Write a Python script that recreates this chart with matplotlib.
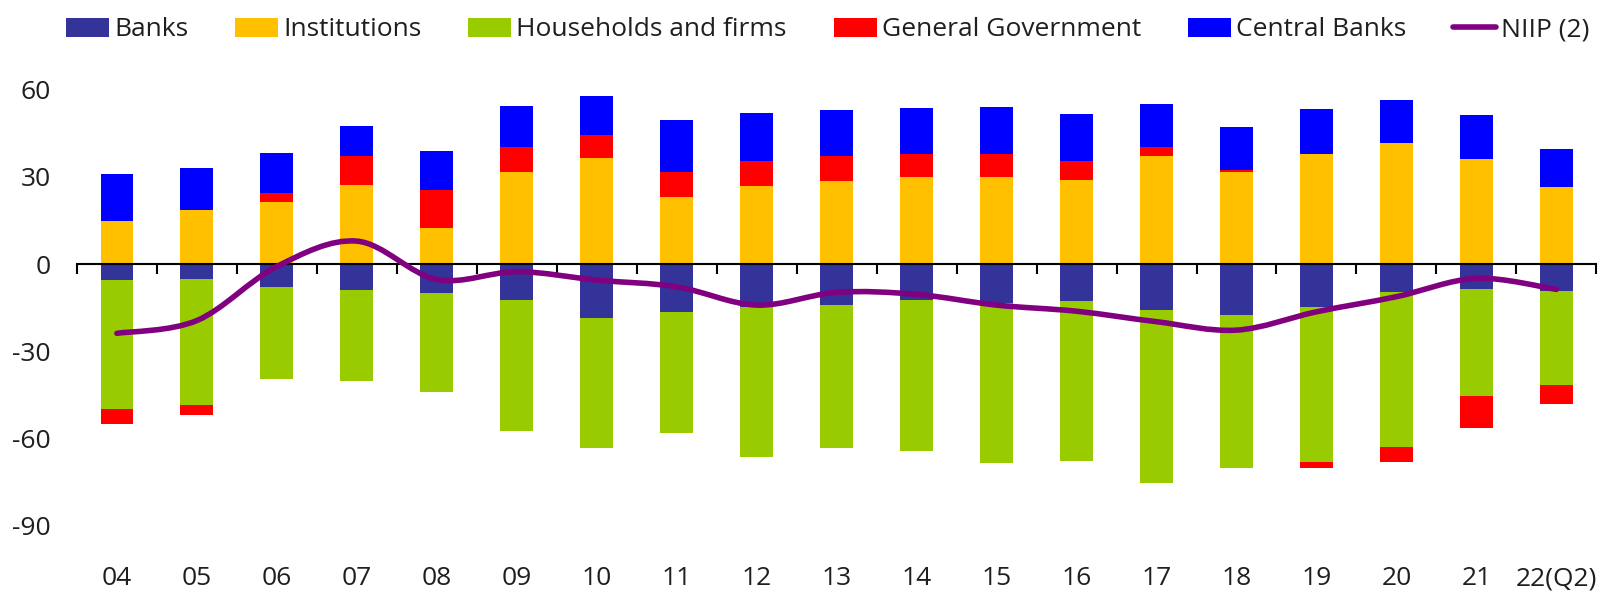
import numpy as np
import matplotlib
matplotlib.use('Agg')
import matplotlib.pyplot as plt
from matplotlib.path import Path
from matplotlib.patches import PathPatch
from matplotlib.lines import Line2D

plt.rcParams['font.family'] = ['Open Sans', 'DejaVu Sans']
plt.rcParams['axes.unicode_minus'] = False

years = ['04', '05', '06', '07', '08', '09', '10', '11', '12', '13',
         '14', '15', '16', '17', '18', '19', '20', '21', '22(Q2)']
banks = [-5.3, -5.2, -7.9, -8.9, -9.9, -12.3, -18.6, -16.3, -14.9, -14.2,
         -12.4, -13.3, -12.6, -15.8, -17.5, -14.7, -9.5, -8.7, -9.3]
institutions = [14.9, 18.6, 21.4, 27.1, 12.3, 31.8, 36.6, 23.1, 26.9, 28.6,
                29.9, 30.1, 28.9, 37.2, 31.5, 38.0, 41.6, 36.1, 26.5]
households = [-44.6, -43.3, -31.5, -31.2, -34.2, -45.2, -44.6, -41.7, -51.3, -49.0,
              -52.0, -55.0, -55.0, -59.6, -52.5, -53.5, -53.4, -36.8, -32.3]
general_gov = [-5.1, -3.3, 2.9, 10.2, 13.0, 8.4, 7.7, 8.4, 8.5, 8.7,
               8.1, 7.7, 6.4, 3.1, 0.9, -1.8, -5.3, -11.0, -6.5]
central_banks = [16.0, 14.4, 13.8, 10.3, 13.5, 14.3, 13.4, 18.2, 16.4, 15.6,
                 15.6, 16.3, 16.2, 14.7, 14.7, 15.2, 14.8, 15.3, 12.9]
niip = [-23.8, -19.4, -0.8, 7.9, -5.3, -2.6, -5.5, -7.8, -14.1, -9.7,
        -10.4, -14.1, -16.2, -19.8, -22.7, -16.4, -11.2, -4.9, -8.7]

series = [('Banks', banks, '#333399'),
          ('Institutions', institutions, '#FFC000'),
          ('Households and firms', households, '#99CC00'),
          ('General Government', general_gov, '#FF0000'),
          ('Central Banks', central_banks, '#0000FF')]


def smooth_path(x, y, t=1/6):
    # excel-like smoothed line as cubic bezier segments
    verts = [(x[0], y[0])]
    codes = [Path.MOVETO]
    n = len(x)
    for i in range(n - 1):
        xp, yp = (x[i - 1], y[i - 1]) if i > 0 else (x[i], y[i])
        xn, yn = (x[i + 2], y[i + 2]) if i + 2 < n else (x[i + 1], y[i + 1])
        c1 = (x[i] + (x[i + 1] - xp) * t, y[i] + (y[i + 1] - yp) * t)
        c2 = (x[i + 1] - (xn - x[i]) * t, y[i + 1] - (yn - y[i]) * t)
        verts += [c1, c2, (x[i + 1], y[i + 1])]
        codes += [Path.CURVE4] * 3
    return Path(verts, codes)


fig = plt.figure(figsize=(16.23, 5.92), dpi=100)
ax = fig.add_axes([0.0474, 0.0625, 0.9362, 0.8108])

x = np.arange(len(years))
pos = np.zeros(len(years))
neg = np.zeros(len(years))
handles = []
for name, vals, col in series:
    v = np.array(vals)
    bottom = np.where(v >= 0, pos, neg)
    bc = ax.bar(x, v, 0.41, bottom=bottom, color=col, label=name, zorder=1)
    handles.append(bc)
    pos = pos + np.where(v >= 0, v, 0)
    neg = neg + np.where(v < 0, v, 0)

ax.add_patch(PathPatch(smooth_path(x, niip), facecolor='none', edgecolor='#800080',
                       lw=4, capstyle='round', zorder=3))
handles.append(Line2D([], [], color='#800080', lw=4, solid_capstyle='round'))

ax.set_xlim(-0.5, len(years) - 0.5)
ax.set_ylim(-100, 65)
for s in ['top', 'right', 'left']:
    ax.spines[s].set_visible(False)
ax.spines['bottom'].set_position(('data', 0))
ax.spines['bottom'].set_linewidth(1.5)
ax.spines['bottom'].set_color('black')
ax.set_xticks(np.arange(-0.5, len(years), 1))
ax.set_xticklabels([])
ax.tick_params(axis='x', length=7, width=1.5, direction='out', color='black')
ax.set_yticks([-90, -60, -30, 0, 30, 60])
ax.tick_params(axis='y', length=0, pad=19, labelsize=19, labelcolor='#1f1f1f')

sec = ax.secondary_xaxis('bottom')
sec.set_xticks(x, labels=years)
sec.tick_params(length=0, pad=8, labelsize=19, labelcolor='#1f1f1f')
sec.spines['bottom'].set_visible(False)

labels = [s[0] for s in series] + ['NIIP (2)']
fig.legend(handles, labels, loc='center left', bbox_to_anchor=(66 / 1623, 1 - 30 / 592),
           ncol=6, frameon=False, fontsize=19, handlelength=1.63, handleheight=0.7,
           handletextpad=0.19, columnspacing=1.78, borderpad=0, borderaxespad=0,
           labelcolor='#1f1f1f')

fig.savefig('out.png', dpi=100)
